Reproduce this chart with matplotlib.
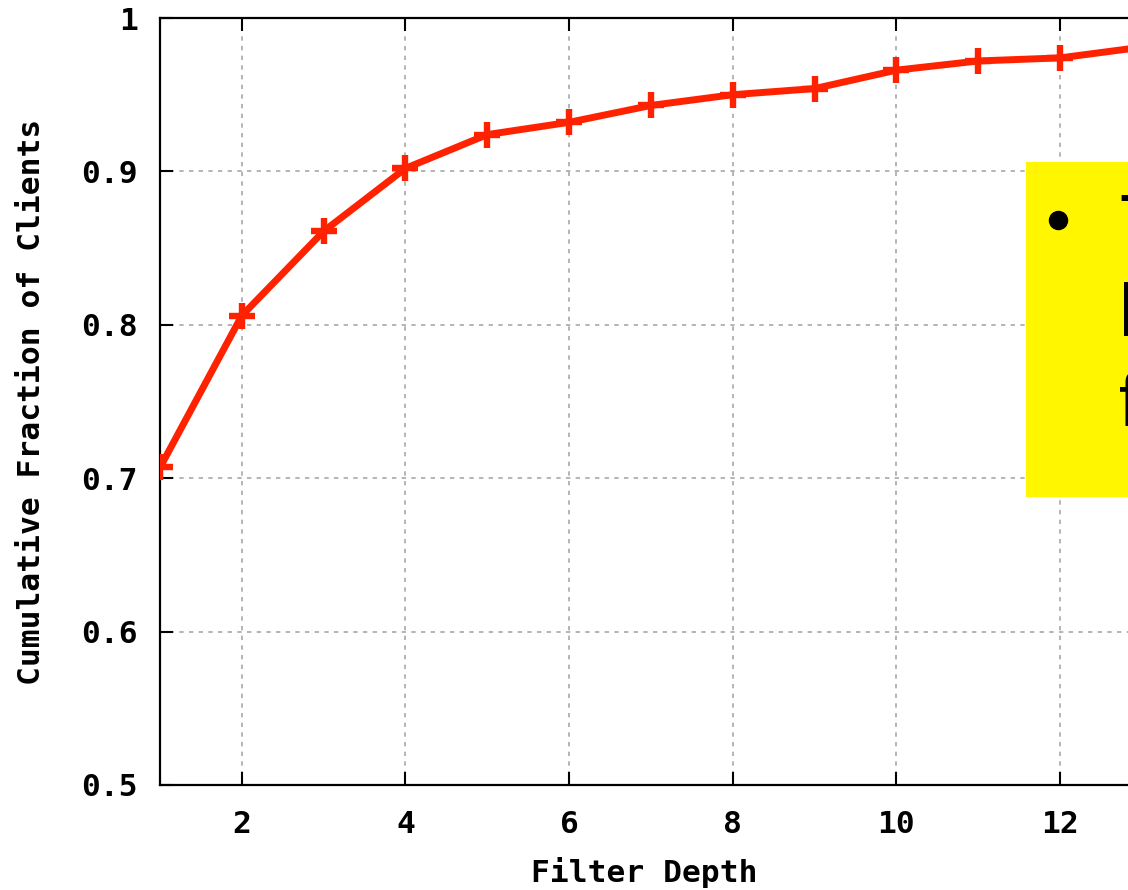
import numpy as np
import matplotlib
matplotlib.use("Agg")
import matplotlib.pyplot as plt
from matplotlib.patches import Rectangle
from matplotlib.lines import Line2D

# cumulative fraction of clients per filter depth
depth = [1, 2, 3, 4, 5, 6, 7, 8, 9, 10, 11, 12, 13]
frac = [0.707, 0.806, 0.861, 0.902, 0.924, 0.932, 0.943, 0.950, 0.954,
        0.966, 0.972, 0.974, 0.981]

xticks = [2, 4, 6, 8, 10, 12]
yticks = [0.5, 0.6, 0.7, 0.8, 0.9, 1.0]
ytick_labels = ["0.5", "0.6", "0.7", "0.8", "0.9", "1"]

# bullet text in the callout box (runs off the right edge)
note_lines = ["The", "lookup", "filters"]

W, H = 1128, 890
fig = plt.figure(figsize=(W / 100, H / 100), dpi=100)
ax = fig.add_axes([160 / W, 1 - 785 / H, 1 - 160 / W, (785 - 18) / H])

ax.plot(depth, frac, color="#ff2200", lw=5.0, marker="+", ms=19, mew=4.6,
        solid_joinstyle="miter", zorder=3)

ax.set_xlim(1, 1 + (W - 158) / 82)
ax.set_ylim(0.5, 1.0)
ax.set_xticks(xticks)
ax.set_xticklabels([str(t) for t in xticks])
ax.set_yticks(yticks)
ax.set_yticklabels(ytick_labels)

mono = dict(family="DejaVu Sans Mono", weight="bold", size=22.5)
for lab in ax.get_xticklabels() + ax.get_yticklabels():
    lab.set_fontproperties(matplotlib.font_manager.FontProperties(**mono))

ax.tick_params(direction="in", length=9.4, width=1.5, top=True, right=False)
ax.tick_params(axis="x", pad=18)
ax.tick_params(axis="y", pad=16)

ax.grid(True, color="#a8a8a8", lw=1.2, linestyle=(0, (2.6, 3.2)))
ax.set_axisbelow(True)

for side in ["left", "bottom", "top"]:
    ax.spines[side].set_linewidth(1.6)
    ax.spines[side].set_color("black")
ax.spines["right"].set_visible(False)

ax.set_xlabel("Filter Depth", labelpad=13, **mono)
ax.set_ylabel("Cumulative Fraction of Clients", labelpad=25, **mono)

# yellow callout box drawn over the plot
box = Rectangle((1026 / W, 1 - 497 / H), (W - 1026) / W + 0.01, (497 - 162) / H,
                transform=fig.transFigure, facecolor="#fff600", edgecolor="none",
                zorder=5)
fig.add_artist(box)
fig.add_artist(Line2D([1058 / W], [1 - 220 / H], marker="o", ms=13, color="black",
                      transform=fig.transFigure, zorder=6))
for i, line in enumerate(note_lines):
    fig.text(1119 / W, 1 - (246 + 90 * i) / H, line, fontsize=53,
             family="Liberation Sans", ha="left", va="baseline", zorder=6)

fig.savefig("out.png", dpi=100)
